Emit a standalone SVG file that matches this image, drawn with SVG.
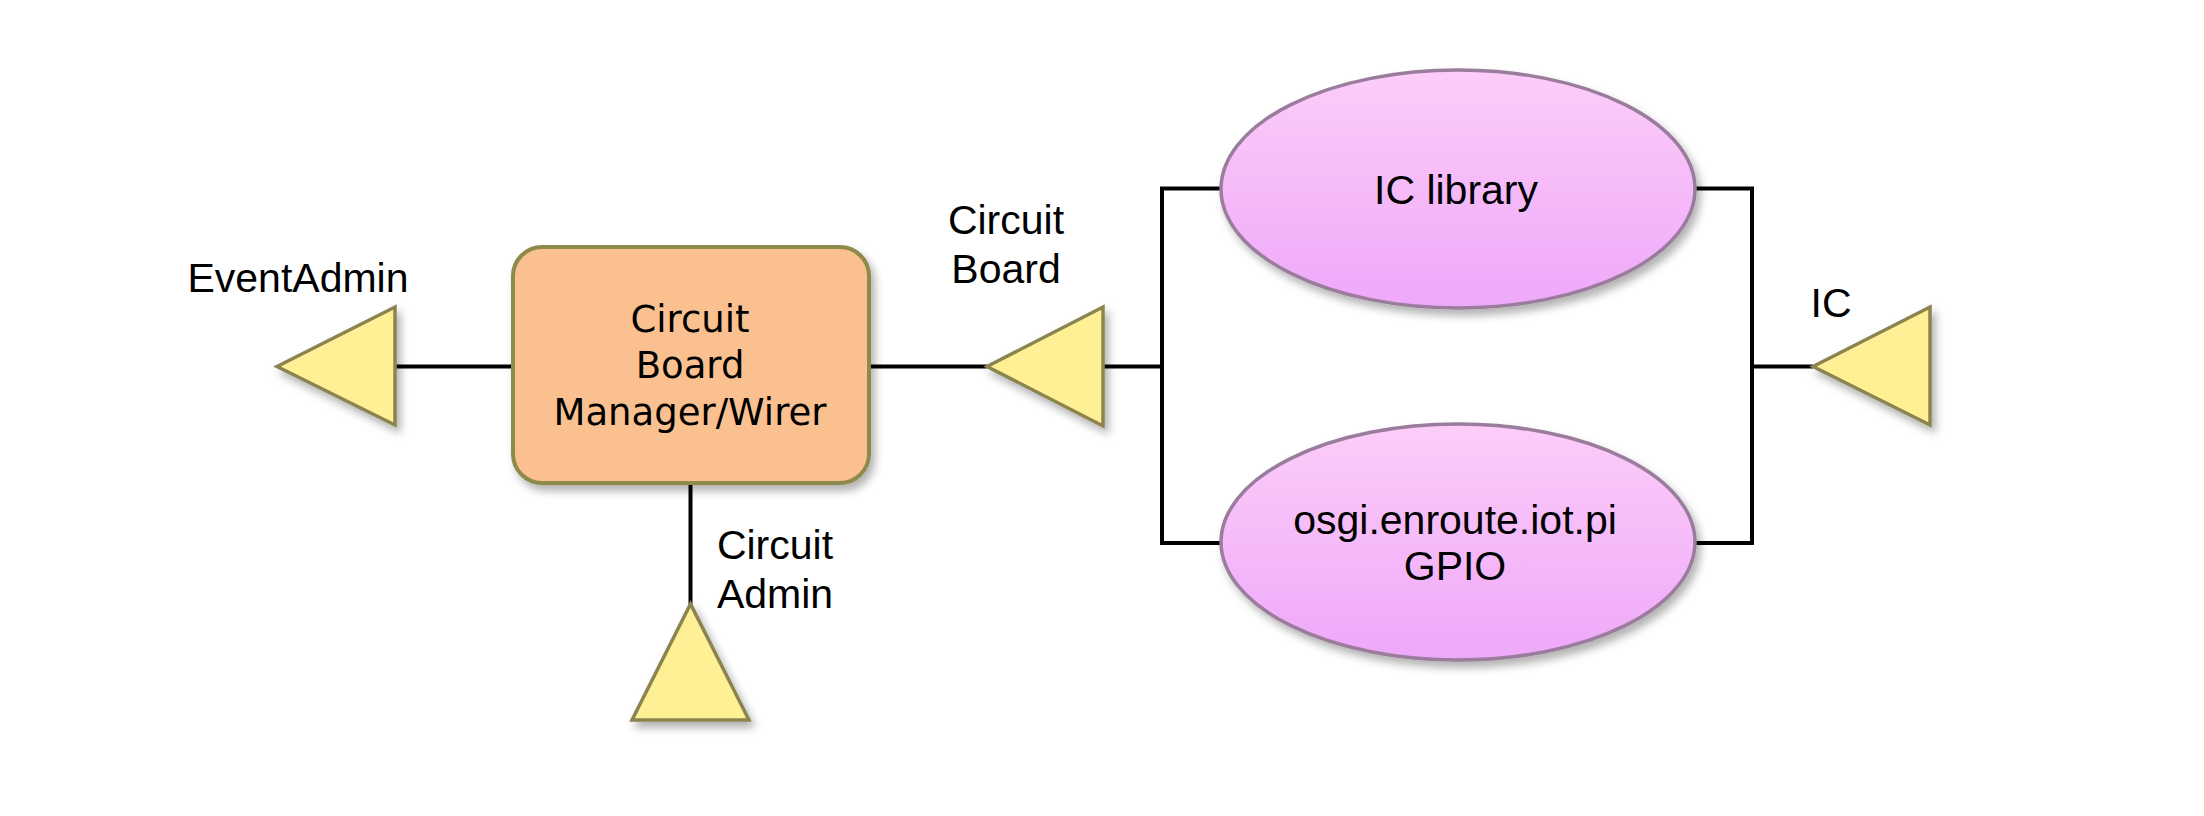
<svg xmlns="http://www.w3.org/2000/svg" width="2204" height="816" viewBox="0 0 2204 816">
  <defs>
    <filter id="sh" x="-20%" y="-20%" width="150%" height="150%">
      <feDropShadow dx="4" dy="6" stdDeviation="4" flood-color="#000" flood-opacity="0.3"/>
    </filter>
    <linearGradient id="pink" x1="0" y1="0" x2="0" y2="1">
      <stop offset="0" stop-color="#fdcdf9"/>
      <stop offset="1" stop-color="#eea8f9"/>
    </linearGradient>
  </defs>
  <style>
    .tri { fill: #fff096; stroke: #8c8450; stroke-width: 3.5; stroke-linejoin: miter; }
    .ell { fill: url(#pink); stroke: #9a7c9c; stroke-width: 3.5; }
    .box { fill: #fac08f; stroke: #8e8a4c; stroke-width: 4; }
    .wire { fill: none; stroke: #000; stroke-width: 4; }
    .lbl { font-family: "Liberation Sans", Arial, sans-serif; font-size: 41px; fill: #000; }
    .btx { font-family: "DejaVu Sans", sans-serif; font-size: 37px; fill: #000; text-anchor: middle; }
  </style>
  <rect width="2204" height="816" fill="#fff"/>

  <g id="connectors">
    <line class="wire" x1="395" y1="366.5" x2="513" y2="366.5"/>
    <line class="wire" x1="869" y1="366.5" x2="987" y2="366.5"/>
    <line class="wire" x1="1103" y1="366.5" x2="1162" y2="366.5"/>
    <polyline class="wire" points="1221,188.5 1162,188.5 1162,543 1221,543"/>
    <polyline class="wire" points="1695,188.5 1752,188.5 1752,543 1695,543"/>
    <line class="wire" x1="1752" y1="366.5" x2="1813" y2="366.5"/>
    <line class="wire" x1="690.5" y1="483" x2="690.5" y2="604"/>
  </g>

  <g id="eventadmin">
    <polygon class="tri" filter="url(#sh)" points="277,366.5 395,307 395,425"/>
    <text class="lbl" x="298" y="292" text-anchor="middle">EventAdmin</text>
  </g>

  <g id="manager">
    <rect class="box" filter="url(#sh)" x="513" y="247" width="356" height="236" rx="29" ry="29"/>
    <text class="btx" x="690" y="332">Circuit</text>
    <text class="btx" x="690" y="378">Board</text>
    <text class="btx" x="690" y="425">Manager/Wirer</text>
  </g>

  <g id="circuitadmin">
    <polygon class="tri" filter="url(#sh)" points="690.5,604 632,720 749,720"/>
    <text class="lbl" x="775" y="559" text-anchor="middle">Circuit</text>
    <text class="lbl" x="775" y="608" text-anchor="middle">Admin</text>
  </g>

  <g id="circuitboard">
    <polygon class="tri" filter="url(#sh)" points="987,366.5 1103,307 1103,426"/>
    <text class="lbl" x="1006" y="234" text-anchor="middle">Circuit</text>
    <text class="lbl" x="1006" y="283" text-anchor="middle">Board</text>
  </g>

  <g id="iclibrary">
    <ellipse class="ell" filter="url(#sh)" cx="1458" cy="189" rx="237" ry="119"/>
    <text class="lbl" x="1456" y="204" text-anchor="middle">IC library</text>
  </g>

  <g id="gpio">
    <ellipse class="ell" filter="url(#sh)" cx="1458" cy="542" rx="237" ry="118"/>
    <text class="lbl" x="1455" y="534" text-anchor="middle">osgi.enroute.iot.pi</text>
    <text class="lbl" x="1455" y="580" text-anchor="middle">GPIO</text>
  </g>

  <g id="ic">
    <polygon class="tri" filter="url(#sh)" points="1813,366.5 1930,307 1930,425"/>
    <text class="lbl" x="1831" y="317" text-anchor="middle">IC</text>
  </g>
</svg>
